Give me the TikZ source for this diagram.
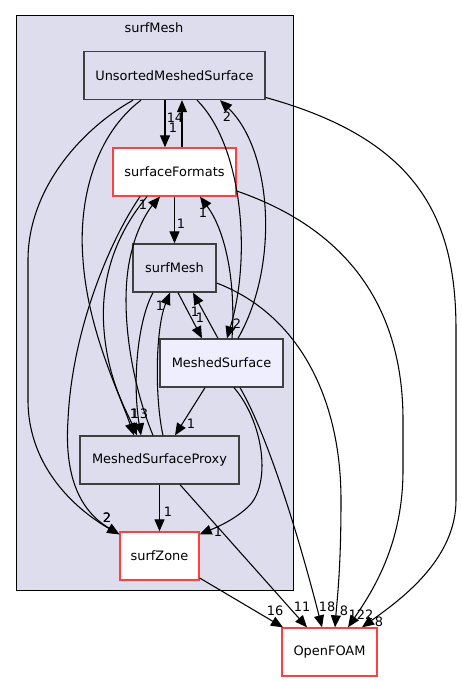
\documentclass[tikz,border=0pt]{standalone}
\usepackage{fontspec}
\setmainfont{DejaVu Sans}
\usetikzlibrary{arrows.meta,calc}

\definecolor{clusterbg}{HTML}{DDDDEE}
\definecolor{msbg}{HTML}{EEEEFF}
\definecolor{boxline}{HTML}{404040}
\definecolor{redline}{HTML}{FF4040}

\tikzset{
  dirbox/.style={draw=boxline, line width=1pt, fill=clusterbg, inner sep=0pt, minimum height=36pt},
  redbox/.style={draw=redline, line width=1pt, fill=white, inner sep=0pt, minimum height=36pt},
  dep/.style={line width=0.8pt, -{Triangle[length=9pt,width=7.5pt]}},
  lbl/.style={inner sep=0pt},
  every node/.style={font=\fontsize{9.7}{11}\selectfont}
}

\begin{document}
\begin{tikzpicture}[x=0.75pt,y=-0.75pt]
      \useasboundingbox (0,0) rectangle (461,681);
      % cluster surfMesh
      \draw[fill=clusterbg, line width=0.75pt] (16,16) rectangle (293,590);
      \node (clab) at (154,28) {surfMesh};
      % directories
      \node[dirbox, minimum width=135.75pt] (ums) at (174.5,75.5) {UnsortedMeshedSurface};
      \node[redbox, minimum width=92.25pt] (sf) at (174.5,172) {surfaceFormats};
      \node[dirbox, minimum width=62.25pt] (sm) at (174.5,268) {surfMesh};
      \node[dirbox, fill=msbg, minimum width=92.25pt] (ms) at (221.5,363) {MeshedSurface};
      \node[dirbox, minimum width=119.25pt] (msp) at (159.5,460) {MeshedSurfaceProxy};
      \node[redbox, minimum width=59.25pt] (sz) at (159.5,556) {surfZone};
      \node[redbox, minimum width=71.25pt] (of) at (329.5,652) {OpenFOAM};

      % UnsortedMeshedSurface <-> surfaceFormats
      \draw[dep] ($(ums.south)+(-9.5,0)$) -- ($(sf.north)+(-9.5,0)$);
      \draw[dep] ($(sf.north)+(7.5,0)$) -- ($(ums.south)+(7.5,0)$);
      \node[lbl] (la) at (173,128) {1};
      \node[lbl] (lb) at (175,118) {14};
      % UnsortedMeshedSurface <-> MeshedSurface
      \draw[dep] ($(ums.south)+(22.5,0)$) .. controls (242,145) and (252,255) .. ($(ms.north)+(5.5,0)$);
      \draw[dep] ($(ms.north)+(16.5,0)$) .. controls (280,265) and (272,150) .. ($(ums.south)+(45.5,0)$);
      \node[lbl] (lc) at (237,324) {2};
      \node[lbl] (ld) at (227,117) {2};
      % left side
      \draw[dep] ($(ums.south)+(-41.5,0)$) .. controls (80,130) and (28,190) .. (28,260)
                 -- (28,400) .. controls (28,470) and (80,512) .. ($(sz.north west)+(0,3)$);
      \draw[dep] ($(ums.south)+(-33.5,0)$) .. controls (95,135) and (78,200) .. (83,260)
                 .. controls (88,330) and (118,390) .. ($(msp.north)+(-25.5,0)$);
      \draw[dep] ($(sf.south)+(-34.5,0)$) .. controls (110,240) and (72,330) .. (68,420)
                 .. controls (64,480) and (82,512) .. ($(sz.north west)+(0,3)$);
      \draw[dep] ($(sf.south)+(-27.5,0)$) .. controls (115,235) and (100,280) .. (104,330)
                 .. controls (108,380) and (126,410) .. ($(msp.north)+(-22.5,0)$);
      \draw[dep] ($(msp.north)+(-6.5,0)$) .. controls (130,380) and (118,300) .. (132,250)
                 .. controls (138,225) and (150,208) .. ($(sf.south)+(-14.5,0)$);
      \draw[dep] ($(sm.south)+(-21.5,0)$) .. controls (138,320) and (132,380) .. ($(msp.north)+(-18.5,0)$);
      \draw[dep] ($(msp.north)+(3.5,0)$) .. controls (155,400) and (155,330) .. ($(sm.south)+(-4.5,0)$);
      \node[lbl] (lf) at (107,518) {2};
      \node[lbl] (li) at (107,518) {2};
      \node[lbl] (lg) at (134,414) {1};
      \node[lbl] (lq) at (135,414) {1};
      \node[lbl] (lj) at (144,414) {3};
      \node[lbl] (lk) at (143,205) {1};
      \node[lbl] (lp) at (160,306) {1};
      % middle
      \draw[dep] (sf) -- (sm);
      \node[lbl] (lh) at (181,224) {1};
      \draw[dep] ($(sm.south)+(3.5,0)$) -- ($(ms.north)+(-19.5,0)$);
      \draw[dep] ($(ms.north)+(-3.5,0)$) -- ($(sm.south)+(18.5,0)$);
      \node[lbl] (ln) at (200,318) {1};
      \node[lbl] (lo) at (195,312) {1};
      \draw[dep] ($(ms.north)+(10.5,0)$) .. controls (236,280) and (225,230) .. ($(sf.south)+(25.5,0)$);
      \node[lbl] (ll) at (203,213) {1};
      \draw[dep] ($(ms.south)+(-16.5,0)$) -- ($(msp.north)+(15.5,0)$);
      \node[lbl] (ls) at (191,424) {1};
      \draw[dep] (msp) -- (sz);
      \node[lbl] (lv) at (168,512) {1};
      \draw[dep] ($(ms.south)+(12.5,0)$) .. controls (262,420) and (272,480) .. (250,505)
                 .. controls (235,520) and (215,528) .. ($(sz.north east)+(0,3)$);
      \node[lbl] (lt) at (218,532) {1};
      % into OpenFOAM
      \draw[dep] ($(sz.east)+(0,22)$) -- ($(of.north)+(-46.5,0)$);
      \draw[dep] ($(msp.south)+(20.5,0)$) -- ($(of.north)+(-22.5,0)$);
      \draw[dep] ($(ms.south)+(18.5,0)$) .. controls (262,425) and (292,510) .. ($(of.north)+(-7.5,0)$);
      \draw[dep] ($(sm.east)+(0,15)$) .. controls (300,315) and (341,400) .. (341,500)
                 .. controls (341,570) and (337,600) .. ($(of.north)+(5.5,0)$);
      \draw[dep] ($(sf.east)+(0,19)$) .. controls (350,230) and (403,310) .. (403,420)
                 -- (403,470) .. controls (403,545) and (372,592) .. ($(of.north)+(18.5,0)$);
      \draw[dep] ($(ums.east)+(0,22)$) .. controls (420,140) and (456,220) .. (456,330)
                 -- (456,500) .. controls (456,560) and (400,600) .. ($(of.north)+(32.5,0)$);
      \node[lbl] (lx) at (275,611) {16};
      \node[lbl] (lw) at (302,607) {11};
      \node[lbl] (lu) at (327,607) {18};
      \node[lbl] (lr) at (344,611) {8};
      \node[lbl] (lm) at (361,615) {122};
      \node[lbl] (le) at (379,622) {8};
    \end{tikzpicture}
\end{document}
